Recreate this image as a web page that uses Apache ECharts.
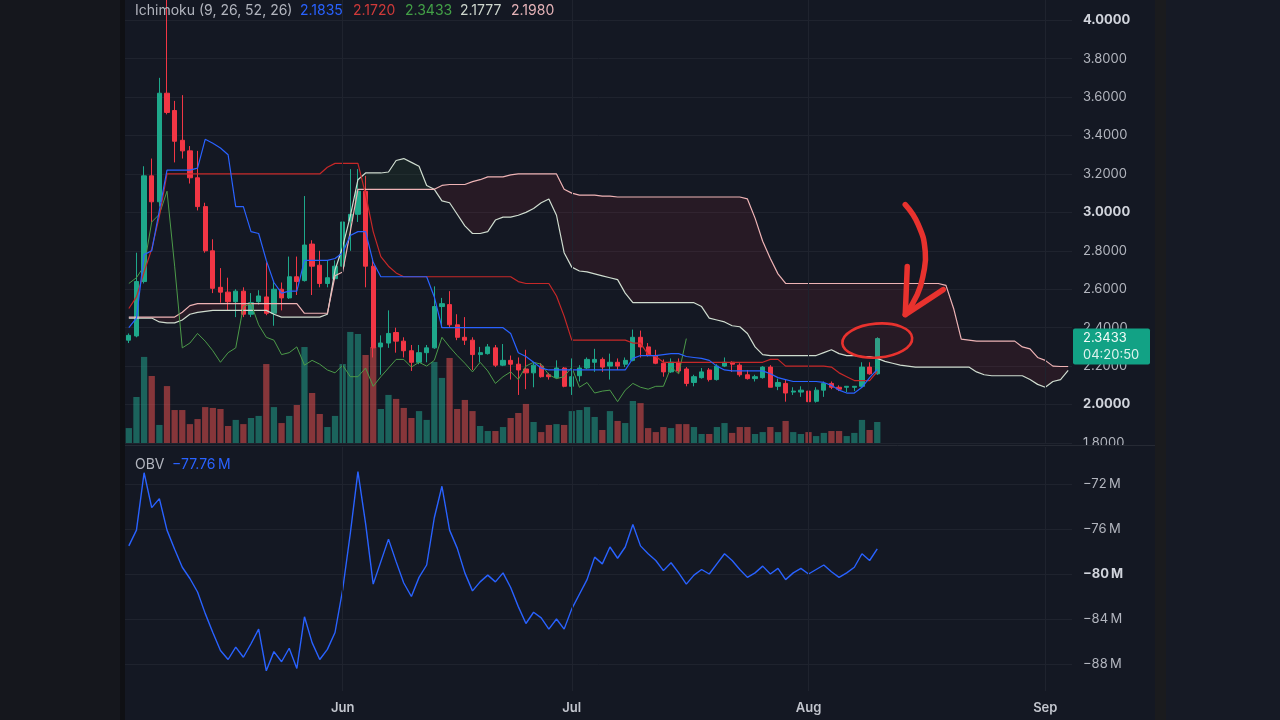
<!DOCTYPE html>
<html><head><meta charset="utf-8">
<script src="https://cdn.jsdelivr.net/npm/echarts@6/dist/echarts.min.js"></script>
<style>html,body{margin:0;padding:0;background:#141823;}#c{width:1280px;height:720px;}</style>
</head><body><div id="c"></div>
<script>
// ---------- DATA ----------
const startDate = [2024, 4, 4];          // 4 May (daily bars)
const dayCount = 124;                    // May 4 .. Sep 4 (cloud projected 26 bars ahead)
const monthStarts = ['2024-06-01', '2024-07-01', '2024-08-01', '2024-09-01'];
const monthLabels = ['Jun', 'Jul', 'Aug', 'Sep'];
const boldPriceTicks = ['4.0000', '3.0000', '2.0000'];
const obvTicks = [-72, -76, -80, -84, -88];
const boldObvTicks = [-80];

const open = [2.335,2.357,2.64,3.19,3.055,3.62,3.53,3.375,3.32,3.18,
  3.03,2.80,2.61,2.585,2.535,2.59,2.47,2.535,2.56,2.475,
  2.60,2.555,2.665,2.645,2.835,2.725,2.63,2.655,2.72,2.955,
  2.99,3.11,2.72,2.30,2.32,2.375,2.33,2.28,2.22,2.27,
  2.295,2.51,2.52,2.415,2.35,2.335,2.26,2.265,2.295,2.205,
  2.23,2.21,2.185,2.165,2.20,2.155,2.14,2.19,2.095,2.15,
  2.19,2.22,2.235,2.20,2.22,2.21,2.23,2.35,2.30,2.255,
  2.215,2.17,2.22,2.185,2.115,2.14,2.18,2.13,2.20,2.22,
  2.205,2.155,2.135,2.14,2.195,2.095,2.11,2.065,2.065,2.07,
  2.017,2.075,2.11,2.09,2.09,2.09,2.095,2.195,2.16];
const close = [2.36,2.64,3.19,3.055,3.62,3.52,3.37,3.32,3.18,3.03,
  2.80,2.605,2.585,2.535,2.59,2.47,2.53,2.565,2.475,2.60,
  2.555,2.665,2.64,2.83,2.72,2.63,2.66,2.72,2.95,2.99,
  3.11,2.72,2.295,2.32,2.37,2.33,2.28,2.22,2.27,2.295,
  2.51,2.525,2.415,2.35,2.335,2.26,2.27,2.30,2.205,2.23,
  2.21,2.18,2.165,2.205,2.145,2.145,2.19,2.095,2.145,2.19,
  2.235,2.235,2.195,2.22,2.20,2.23,2.35,2.30,2.255,2.215,
  2.17,2.22,2.175,2.11,2.145,2.17,2.13,2.20,2.22,2.21,
  2.155,2.135,2.145,2.195,2.09,2.115,2.06,2.07,2.075,2.015,
  2.075,2.11,2.09,2.08,2.095,2.095,2.195,2.16,2.3433];
const low = [2.32,2.35,2.63,2.95,3.03,3.51,3.26,3.28,3.15,3.01,
  2.79,2.58,2.53,2.49,2.455,2.455,2.455,2.52,2.465,2.41,
  2.49,2.55,2.57,2.64,2.57,2.61,2.61,2.65,2.71,2.80,
  2.95,2.61,2.245,2.155,2.295,2.27,2.245,2.175,2.21,2.22,
  2.29,2.40,2.40,2.335,2.31,2.18,2.22,2.26,2.195,2.20,
  2.13,2.05,2.08,2.09,2.14,2.13,2.135,2.09,2.05,2.12,
  2.185,2.17,2.17,2.13,2.18,2.195,2.225,2.245,2.25,2.21,
  2.145,2.165,2.165,2.095,2.095,2.135,2.12,2.125,2.195,2.17,
  2.145,2.13,2.12,2.135,2.09,2.075,2.015,2.05,2.04,2.005,
  2.01,2.04,2.08,2.07,2.065,2.07,2.09,2.155,2.155];
const high = [2.37,2.79,3.24,3.28,3.70,4.14,3.58,3.61,3.345,3.32,
  3.05,2.86,2.71,2.66,2.60,2.61,2.58,2.595,2.74,2.645,
  2.635,2.77,2.77,3.085,2.855,2.80,2.75,2.75,3.07,3.225,
  3.225,3.19,2.76,2.36,2.49,2.40,2.35,2.31,2.31,2.31,
  2.615,2.555,2.59,2.47,2.455,2.35,2.30,2.315,2.31,2.315,
  2.255,2.245,2.285,2.22,2.215,2.165,2.23,2.195,2.24,2.205,
  2.245,2.29,2.245,2.265,2.24,2.245,2.39,2.385,2.32,2.285,
  2.235,2.24,2.24,2.195,2.155,2.19,2.19,2.21,2.245,2.225,
  2.215,2.18,2.155,2.20,2.205,2.135,2.13,2.09,2.095,2.085,
  2.09,2.12,2.12,2.10,2.095,2.095,2.22,2.22,2.35];
const volume = [0.71,2.19,4.10,3.19,0.86,2.71,1.57,1.57,0.90,1.14,
  1.71,1.67,1.62,0.81,1.10,0.90,1.19,1.29,3.76,1.71,
  0.95,1.29,1.81,4.57,2.38,1.38,0.76,1.29,3.76,5.29,
  5.19,4.19,4.57,1.62,2.29,2.10,1.67,1.19,1.52,1.10,
  3.86,3.10,4.05,1.62,2.05,1.52,0.81,0.57,0.57,0.76,
  1.19,1.43,1.86,1.00,0.52,0.86,0.90,0.86,1.52,1.57,
  1.71,1.24,0.62,1.52,1.05,0.95,2.00,1.90,0.71,0.52,
  0.76,0.71,0.90,0.90,0.76,0.43,0.43,0.76,0.95,0.48,
  0.76,0.76,0.43,0.52,0.76,0.52,1.05,0.52,0.43,0.52,
  0.33,0.48,0.57,0.57,0.33,0.48,1.10,0.62,1.00];
const conversion = [2.40,2.45,2.78,2.80,3.01,3.22,3.22,3.22,3.22,3.23,
  3.38,3.36,3.335,3.30,3.03,3.03,2.90,2.89,2.75,2.635,
  2.58,2.59,2.59,2.75,2.75,2.75,2.75,2.76,2.79,2.88,
  2.90,2.90,2.74,2.665,2.665,2.665,2.665,2.665,2.665,2.665,
  2.56,2.40,2.40,2.40,2.40,2.40,2.40,2.40,2.40,2.40,
  2.37,2.27,2.25,2.22,2.19,2.18,2.18,2.18,2.18,2.18,
  2.18,2.18,2.18,2.18,2.18,2.18,2.24,2.255,2.255,2.255,
  2.26,2.265,2.265,2.25,2.245,2.24,2.23,2.20,2.18,2.175,
  2.175,2.175,2.175,2.175,2.16,2.14,2.13,2.12,2.12,2.12,
  2.12,2.115,2.10,2.075,2.06,2.06,2.09,2.14,2.1835];
const baseLine = [2.50,2.56,2.69,2.81,2.98,3.20,3.20,3.20,3.20,3.20,
  3.20,3.20,3.20,3.20,3.20,3.20,3.20,3.20,3.20,3.20,
  3.20,3.20,3.20,3.20,3.20,3.20,3.235,3.255,3.255,3.255,
  3.255,3.095,2.90,2.77,2.72,2.685,2.665,2.665,2.665,2.665,
  2.665,2.665,2.665,2.665,2.665,2.665,2.665,2.665,2.665,2.665,
  2.665,2.64,2.63,2.63,2.63,2.63,2.565,2.46,2.335,2.335,
  2.335,2.335,2.335,2.335,2.335,2.335,2.32,2.32,2.26,2.25,
  2.22,2.22,2.22,2.22,2.22,2.22,2.22,2.22,2.22,2.22,
  2.22,2.22,2.22,2.22,2.235,2.235,2.20,2.20,2.20,2.20,
  2.20,2.20,2.195,2.165,2.145,2.125,2.125,2.125,2.172];
const spanA = [2.45,2.45,2.45,2.45,2.43,2.425,2.425,2.44,2.47,2.48,
  2.485,2.49,2.49,2.49,2.49,2.49,2.49,2.49,2.49,2.47,
  2.455,2.455,2.455,2.455,2.455,2.455,2.47,2.70,2.82,2.98,
  3.17,3.205,3.205,3.205,3.21,3.27,3.28,3.26,3.24,3.14,
  3.12,3.06,3.05,2.99,2.93,2.89,2.89,2.90,2.96,2.975,
  2.975,2.985,3.00,3.02,3.05,3.07,2.985,2.79,2.715,2.695,
  2.69,2.68,2.67,2.66,2.65,2.58,2.53,2.53,2.53,2.53,
  2.53,2.53,2.53,2.53,2.53,2.51,2.45,2.44,2.43,2.41,
  2.405,2.37,2.30,2.26,2.255,2.255,2.255,2.255,2.255,2.255,
  2.255,2.27,2.285,2.265,2.255,2.255,2.25,2.25,2.24,2.225,
  2.215,2.205,2.20,2.195,2.195,2.195,2.195,2.195,2.195,2.195,
  2.195,2.17,2.155,2.15,2.15,2.15,2.15,2.15,2.13,2.105,
  2.09,2.12,2.13,2.1777];
const spanB = [2.455,2.455,2.455,2.455,2.455,2.455,2.455,2.48,2.515,2.525,
  2.525,2.525,2.525,2.525,2.525,2.525,2.525,2.525,2.525,2.525,
  2.525,2.525,2.525,2.475,2.475,2.475,2.475,2.67,2.69,2.90,
  3.12,3.12,3.12,3.12,3.12,3.12,3.12,3.12,3.12,3.12,
  3.12,3.14,3.145,3.145,3.145,3.16,3.17,3.185,3.185,3.185,
  3.195,3.20,3.20,3.20,3.20,3.20,3.20,3.12,3.10,3.09,
  3.09,3.09,3.085,3.085,3.08,3.08,3.08,3.08,3.08,3.08,
  3.08,3.08,3.08,3.08,3.08,3.08,3.08,3.08,3.08,3.08,
  3.08,3.07,2.97,2.85,2.76,2.68,2.63,2.63,2.63,2.63,
  2.63,2.63,2.63,2.63,2.63,2.63,2.63,2.63,2.63,2.63,
  2.63,2.63,2.63,2.63,2.63,2.63,2.63,2.62,2.50,2.34,
  2.335,2.33,2.33,2.33,2.33,2.33,2.33,2.30,2.29,2.245,
  2.23,2.20,2.198,2.198];
const obv = [-77.5,-76.1,-71.0,-74.1,-73.3,-76.1,-77.8,-79.4,-80.4,-81.6,
  -83.5,-85.2,-86.8,-87.6,-86.5,-87.4,-86.2,-84.9,-88.6,-86.9,
  -87.8,-86.6,-88.4,-83.8,-86.1,-87.6,-86.7,-85.2,-81.4,-76.4,
  -70.9,-75.5,-80.9,-78.9,-76.9,-78.9,-80.8,-82.0,-80.3,-79.2,
  -75.0,-72.2,-76.1,-77.7,-79.9,-81.5,-80.7,-80.1,-80.7,-79.9,
  -81.2,-82.9,-84.4,-83.4,-83.9,-84.9,-84.0,-84.9,-83.1,-81.8,
  -80.5,-78.5,-79.1,-77.6,-78.6,-77.6,-75.6,-77.5,-78.2,-78.8,
  -79.7,-79.0,-79.9,-80.9,-80.1,-79.6,-80.0,-79.1,-78.2,-78.8,
  -79.6,-80.3,-79.9,-79.3,-80.0,-79.5,-80.5,-79.9,-79.5,-80.0,
  -79.6,-79.2,-79.8,-80.3,-79.9,-79.4,-78.2,-78.8,-77.76];
const laggingShift = 25;

// ---------- BUILD ----------
const categories = [];
for (let i = 0; i < dayCount; i++) {
  const d = new Date(Date.UTC(startDate[0], startDate[1], startDate[2] + i));
  categories.push(d.toISOString().slice(0, 10));
}
const lagging = close.slice(laggingShift);
const candleData = open.map((o, i) => [o, close[i], low[i], high[i]]);
const cloudLow = spanA.map((a, i) => Math.min(a, spanB[i]));
const cloudGreen = spanA.map((a, i) => Math.max(a - spanB[i], 0));
const cloudRed = spanA.map((a, i) => Math.max(spanB[i] - a, 0));

const FONT = 'Inter, Roboto, "Noto Sans", sans-serif';
const UP = '#1ea88b', DOWN = '#f23645';
const GRID_LINE = '#1f232e';
const LABEL = '#b2b5be';

const chart = echarts.init(document.getElementById('c'));
const noLine = { opacity: 0, width: 0 };

chart.setOption({
  animation: false,
  backgroundColor: '#141823',
  grid: [
    { left: 125, width: 947, top: 0, height: 443 },
    { left: 125, width: 947, top: 233, height: 210 },
    { left: 125, width: 947, top: 439, height: 270 }
  ],
  xAxis: [
    { type: 'category', gridIndex: 0, data: categories, show: false },
    { type: 'category', gridIndex: 1, data: categories, show: false },
    { type: 'category', gridIndex: 2, data: categories,
      axisLine: { show: false }, axisTick: { show: false }, splitLine: { show: false },
      axisLabel: {
        margin: -7, color: '#c3c6ce', fontSize: 13, fontWeight: 600, fontFamily: FONT,
        interval: (idx, val) => monthStarts.includes(val),
        formatter: (val) => { const k = monthStarts.indexOf(val); return k >= 0 ? monthLabels[k] : ''; }
      } }
  ],
  yAxis: [
    { type: 'value', gridIndex: 0, position: 'right', min: 1.8, max: 4.105, interval: 0.2,
      axisLine: { show: false }, axisTick: { show: false },
      splitLine: { showMaxLine: false, lineStyle: { color: GRID_LINE, width: 1 } },
      axisLabel: {
        margin: 11, color: LABEL, fontSize: 13, fontFamily: FONT, showMaxLabel: false,
        formatter: (v) => { const s = v.toFixed(4); return boldPriceTicks.includes(s) ? '{b|' + s + '}' : s; },
        rich: { b: { color: '#d1d4dc', fontWeight: 'bold', fontSize: 13, fontFamily: FONT } }
      } },
    { type: 'value', gridIndex: 1, min: 0, max: 10, show: false },
    { type: 'value', gridIndex: 2, position: 'right', min: -92, max: -68, interval: 4,
      axisLine: { show: false }, axisTick: { show: false },
      splitLine: { showMinLine: false, showMaxLine: false, lineStyle: { color: GRID_LINE, width: 1 } },
      axisLabel: {
        margin: 11, color: LABEL, fontSize: 13, fontFamily: FONT, showMinLabel: false, showMaxLabel: false,
        formatter: (v) => {
          if (!obvTicks.includes(v)) return '';
          const s = '\u2212' + Math.abs(v) + '\u2009M';
          return boldObvTicks.includes(v) ? '{b|' + s + '}' : s;
        },
        rich: { b: { color: '#d1d4dc', fontWeight: 'bold', fontSize: 13, fontFamily: FONT } }
      } }
  ],
  series: [
    { name: 'Volume', type: 'bar', xAxisIndex: 1, yAxisIndex: 1, barWidth: '82%', silent: true,
      data: volume.map((v, i) => ({ value: v, itemStyle: { color: close[i] >= open[i] ? 'rgba(34,168,145,0.52)' : 'rgba(239,83,80,0.52)' } })) },
    { name: 'cloudLow', type: 'line', stack: 'cloud', data: cloudLow, symbol: 'none', lineStyle: noLine, silent: true,
      markLine: { silent: true, symbol: ['none', 'none'], label: { show: false },
        lineStyle: { color: GRID_LINE, width: 1, type: 'solid' },
        data: monthStarts.map(m => ({ xAxis: m })) } },
    { name: 'cloudGreen', type: 'line', stack: 'cloud', data: cloudGreen, symbol: 'none', lineStyle: noLine, silent: true,
      areaStyle: { color: 'rgba(67,160,71,0.13)' } },
    { name: 'cloudRed', type: 'line', stack: 'cloud', data: cloudRed, symbol: 'none', lineStyle: noLine, silent: true,
      areaStyle: { color: 'rgba(242,54,69,0.12)' } },
    { name: 'Leading Span A', type: 'line', data: spanA, symbol: 'none', silent: true, lineStyle: { color: '#cfdccf', width: 1.2 } },
    { name: 'Leading Span B', type: 'line', data: spanB, symbol: 'none', silent: true, lineStyle: { color: '#eeb3b5', width: 1.2 } },
    { name: 'Lagging Span', type: 'line', data: lagging, symbol: 'none', silent: true, lineStyle: { color: '#4c9a49', width: 1 } },
    { name: 'Base Line', type: 'line', data: baseLine, symbol: 'none', silent: true, lineStyle: { color: '#c62828', width: 1.2 } },
    { name: 'Conversion Line', type: 'line', data: conversion, symbol: 'none', silent: true, lineStyle: { color: '#2962ff', width: 1.2 } },
    { name: 'Price', type: 'candlestick', data: candleData, barWidth: '62%', silent: true,
      itemStyle: { color: UP, color0: DOWN, borderColor: UP, borderColor0: DOWN, borderWidth: 1 } },
    { name: 'OBV', type: 'line', xAxisIndex: 2, yAxisIndex: 2, data: obv, symbol: 'none', silent: true,
      lineStyle: { color: '#2962ff', width: 1.4 },
      markLine: { silent: true, symbol: ['none', 'none'], label: { show: false },
        lineStyle: { color: GRID_LINE, width: 1, type: 'solid' },
        data: monthStarts.map(m => [{ coord: [m, -68.7] }, { coord: [m, -90.4] }]) } }
  ]
});

// ---------- overlay texts / annotation anchored to data ----------
const last = close.length - 1;
const pLast = chart.convertToPixel({ xAxisIndex: 0, yAxisIndex: 0 }, [last, close[last]]);
const cx = pLast[0], cy = pLast[1];
const red = '#e8322e';
const txt = (x, y, s, color, size) => ({ type: 'text', x: x, y: y, z: 100,
  style: { text: s, fill: color, font: (size || 13) + 'px ' + FONT, textVerticalAlign: 'middle' } });

chart.setOption({
  graphic: [
    { type: 'rect', shape: { x: 0, y: 0, width: 120, height: 720 }, style: { fill: '#15171d' }, z: 90 },
    { type: 'rect', shape: { x: 120, y: 0, width: 5, height: 720 }, style: { fill: '#0f1014' }, z: 90 },
    { type: 'rect', shape: { x: 1155, y: 0, width: 11, height: 720 }, style: { fill: '#1a1b1e' }, z: 90 },
    { type: 'rect', shape: { x: 1166, y: 0, width: 114, height: 720 }, style: { fill: '#161a25' }, z: 90 },
    { type: 'rect', shape: { x: 1073, y: 446, width: 82, height: 8 }, style: { fill: '#141823' }, z: 90 },
    { type: 'line', shape: { x1: 125, y1: 445.5, x2: 1155, y2: 445.5 }, style: { stroke: '#262a34', lineWidth: 1 }, z: 91 },
    txt(135, 11, 'Ichimoku (9, 26, 52, 26)', LABEL, 14),
    txt(300, 11, conversion[last].toFixed(4), '#2962ff', 14),
    txt(353, 11, baseLine[last].toFixed(4), '#d03a3a', 14),
    txt(405, 11, close[last].toFixed(4), '#43a047', 14),
    txt(460, 11, spanA[dayCount - 1].toFixed(4), '#cdd6cd', 14),
    txt(511, 11, spanB[dayCount - 1].toFixed(4), '#e6b3b8', 14),
    txt(135, 465, 'OBV', LABEL, 14),
    txt(172, 465, '\u2212' + Math.abs(obv[last]).toFixed(2) + '\u2009M', '#2962ff', 14),
    { type: 'rect', z: 100, shape: { x: 1073, y: cy - 10, width: 77, height: 36, r: 2 }, style: { fill: '#12a285' } },
    txt(1083, cy, close[last].toFixed(4), '#f2fbf8'),
    txt(1083, cy + 17, '04:20:50', '#dff3ee'),
    { type: 'ellipse', z: 100, x: cx, y: cy + 2, rotation: 0.08,
      shape: { cx: 0, cy: 0, rx: 35, ry: 17 },
      style: { fill: 'none', stroke: red, lineWidth: 2.6 } },
    { type: 'polyline', z: 100,
      shape: { smooth: 0.5, points: [[cx + 28, cy - 134], [cx + 41, cy - 114], [cx + 48, cy - 87], [cx + 46, cy - 64], [cx + 40, cy - 44], [cx + 28, cy - 24]] },
      style: { fill: 'none', stroke: red, lineWidth: 5.5, lineCap: 'round', lineJoin: 'round' } },
    { type: 'polyline', z: 100,
      shape: { points: [[cx + 30, cy - 72], [cx + 28, cy - 24], [cx + 66, cy - 49]] },
      style: { fill: 'none', stroke: red, lineWidth: 5.5, lineCap: 'round', lineJoin: 'round' } }
  ]
});
</script>
</body></html>
